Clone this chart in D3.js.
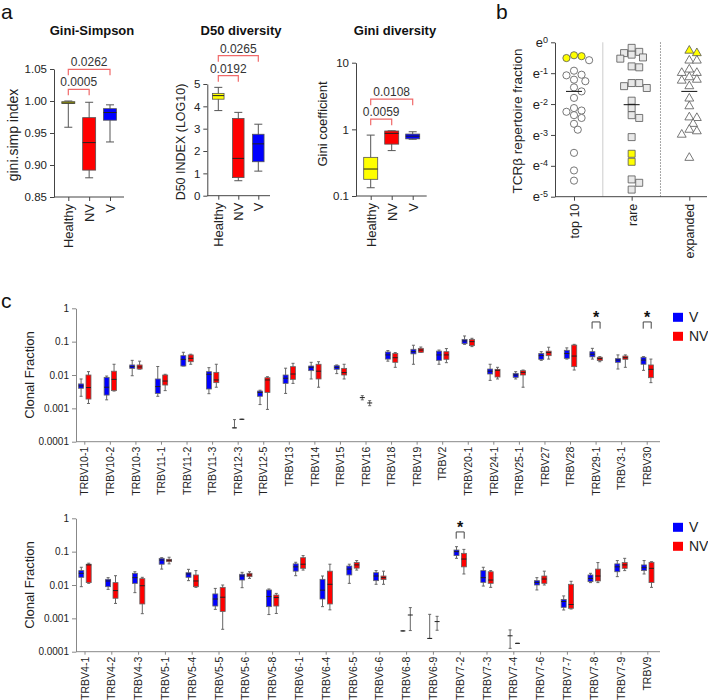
<!DOCTYPE html>
<html>
<head>
<meta charset="UTF-8" />
<script src="https://d3js.org/d3.v7.min.js"></script>
<style>
  body { margin: 0; background: #fff; }
  svg { font-family: "Liberation Sans", Arial, sans-serif; }
</style>
</head>
<body>
<svg id="fig" width="708" height="700"></svg>
<script>
// ---- panel a: box summaries [min, q1, median, q3, max] ----
var groups = ['Healthy', 'NV', 'V'];
var groupColors = ['#ffff00', '#ff0000', '#0000ff'];
var giniSimpson = [[0.959, 0.996, 0.997, 0.999, 1.0], [0.880, 0.892, 0.935, 0.974, 0.998], [0.936, 0.970, 0.982, 0.988, 0.994]];
var d50 = [[3.81, 4.32, 4.48, 4.58, 4.85], [0.67, 0.81, 1.67, 3.46, 3.73], [1.1, 1.52, 2.32, 2.75, 3.2]];
var giniCoef = [[0.133, 0.178, 0.254, 0.38, 0.82], [0.48, 0.6, 0.87, 0.945, 0.95], [0.71, 0.72, 0.79, 0.85, 0.92]];
var pGiniSimpson = ['0.0005', '0.0262'];
var pD50 = ['0.0192', '0.0265'];
var pGini = ['0.0059', '0.0108'];

// ---- panel b: TCRb repertoire fraction (exponent of e) ----
var fracCats = ['top 10', 'rare', 'expanded'];
var fracTop10 = [-0.58, -0.92, -1.05, -1.07, -1.21, -1.26, -1.46, -1.59, -1.8, -2.13, -2.21, -2.25, -2.36, -2.45, -2.64, -2.83, -3.58, -4.15, -4.48];
var fracTop10Hi = [-0.42, -0.45, -0.51];
var fracRare = [-0.18, -0.31, -0.35, -0.4, -0.49, -0.53, -0.78, -0.81, -1.32, -1.32, -1.42, -1.48, -1.89, -2.13, -2.36, -2.45, -3.07, -4.44, -4.55, -4.77];
var fracRareHi = [-3.61, -3.87];
var fracExp = [-0.59, -0.59, -0.88, -0.99, -0.99, -1.13, -1.21, -1.24, -1.42, -1.82, -2.07, -2.43, -2.45, -2.64, -2.83, -2.88, -2.99, -3.74];
var fracExpHi = [-0.27, -0.35];
var fracLine = [-1.59, -2.02, -1.59];

// ---- panel c: clonal fraction per TRBV gene [min, q1, median, q3, max] ----
var genesTop = ['TRBV10-1', 'TRBV10-2', 'TRBV10-3', 'TRBV11-1', 'TRBV11-2', 'TRBV11-3', 'TRBV12-3', 'TRBV12-5', 'TRBV13', 'TRBV14', 'TRBV15', 'TRBV16', 'TRBV18', 'TRBV19', 'TRBV2', 'TRBV20-1', 'TRBV24-1', 'TRBV25-1', 'TRBV27', 'TRBV28', 'TRBV29-1', 'TRBV3-1', 'TRBV30'];
var vTop = [
  [0.0023, 0.004, 0.0047, 0.0054, 0.0076], [0.0018, 0.0025, 0.0043, 0.0085, 0.0093], [0.0095, 0.0158, 0.0178, 0.02, 0.0275],
  [0.0023, 0.0028, 0.0045, 0.0076, 0.018], [0.0186, 0.0186, 0.0295, 0.038, 0.048], [0.00275, 0.0038, 0.0105, 0.0126, 0.0166],
  [0.00026, 0.00026, 0.00026, 0.00026, 0.00046], [0.0013, 0.0023, 0.003, 0.0033, 0.0035], [0.0028, 0.0056, 0.008, 0.01, 0.016],
  [0.0076, 0.0135, 0.017, 0.0186, 0.024], [0.011, 0.0148, 0.017, 0.019, 0.02], [0.0018, 0.0021, 0.0021, 0.0021, 0.0024],
  [0.026, 0.03, 0.04, 0.049, 0.054], [0.021, 0.043, 0.05, 0.059, 0.078], [0.021, 0.0275, 0.04, 0.052, 0.056],
  [0.083, 0.087, 0.105, 0.117, 0.148], [0.0069, 0.0107, 0.013, 0.0151, 0.021], [0.0076, 0.0085, 0.01, 0.0112, 0.0126],
  [0.0275, 0.0295, 0.038, 0.044, 0.05], [0.03, 0.0316, 0.044, 0.055, 0.065], [0.03, 0.035, 0.042, 0.05, 0.063],
  [0.0151, 0.024, 0.028, 0.031, 0.04], [0.0138, 0.021, 0.028, 0.034, 0.0355]
];
var nvTop = [
  [0.0014, 0.0019, 0.0042, 0.01, 0.0126], [0.0033, 0.0034, 0.0074, 0.013, 0.021], [0.015, 0.0151, 0.0174, 0.02, 0.026],
  [0.0034, 0.005, 0.0066, 0.01, 0.0105], [0.021, 0.025, 0.0316, 0.04, 0.042], [0.0043, 0.0059, 0.0071, 0.012, 0.021],
  [0.00047, 0.00047, 0.00047, 0.00047, 0.00047], [0.00093, 0.003, 0.0071, 0.0083, 0.0089], [0.0056, 0.0074, 0.0107, 0.0178, 0.0224],
  [0.0043, 0.0076, 0.013, 0.021, 0.025], [0.0076, 0.01, 0.0118, 0.0158, 0.021], [0.0012, 0.00145, 0.00145, 0.00145, 0.0017],
  [0.017, 0.024, 0.033, 0.044, 0.047], [0.048, 0.048, 0.056, 0.063, 0.069], [0.0234, 0.0295, 0.04, 0.05, 0.062],
  [0.071, 0.076, 0.1, 0.117, 0.126], [0.0076, 0.0087, 0.0138, 0.0148, 0.017], [0.0043, 0.01, 0.012, 0.0135, 0.0141],
  [0.03, 0.038, 0.047, 0.052, 0.068], [0.0141, 0.0178, 0.037, 0.079, 0.083], [0.025, 0.027, 0.031, 0.034, 0.0355],
  [0.017, 0.0295, 0.033, 0.037, 0.04], [0.0059, 0.0083, 0.0148, 0.02, 0.03]
];
var sigTop = ['TRBV29-1', 'TRBV30'];

var genesBottom = ['TRBV4-1', 'TRBV4-2', 'TRBV4-3', 'TRBV5-1', 'TRBV5-4', 'TRBV5-5', 'TRBV5-6', 'TRBV5-8', 'TRBV6-1', 'TRBV6-4', 'TRBV6-5', 'TRBV6-6', 'TRBV6-8', 'TRBV6-9', 'TRBV7-2', 'TRBV7-3', 'TRBV7-4', 'TRBV7-6', 'TRBV7-7', 'TRBV7-8', 'TRBV7-9', 'TRBV9'];
var vBottom = [
  [0.0089, 0.017, 0.0224, 0.027, 0.034], [0.0074, 0.0089, 0.0132, 0.0148, 0.0166], [0.0059, 0.0112, 0.0166, 0.0224, 0.025],
  [0.03, 0.042, 0.056, 0.063, 0.066], [0.0135, 0.017, 0.0214, 0.0234, 0.0295], [0.00186, 0.00234, 0.0038, 0.0054, 0.0079],
  [0.0083, 0.0141, 0.0186, 0.021, 0.024], [0.0013, 0.00224, 0.0045, 0.0071, 0.0076], [0.019, 0.026, 0.035, 0.043, 0.048],
  [0.00224, 0.0038, 0.007, 0.0148, 0.0186], [0.0112, 0.02, 0.03, 0.037, 0.042], [0.0105, 0.0135, 0.0186, 0.0234, 0.027],
  [0.00042, 0.00042, 0.00042, 0.00042, 0.00042], [0.00025, 0.00025, 0.00025, 0.00025, 0.00132], [0.063, 0.076, 0.1, 0.112, 0.141],
  [0.0093, 0.012, 0.0166, 0.027, 0.034], [0.000126, 0.0003, 0.0003, 0.0003, 0.00045], [0.0071, 0.01, 0.012, 0.0135, 0.0166],
  [0.00178, 0.00214, 0.0032, 0.0037, 0.0047], [0.0118, 0.0126, 0.0158, 0.02, 0.0224], [0.0178, 0.025, 0.035, 0.043, 0.054],
  [0.0214, 0.027, 0.033, 0.04, 0.054]
];
var nvBottom = [
  [0.0112, 0.0118, 0.04, 0.042, 0.045], [0.0028, 0.004, 0.0068, 0.0118, 0.019], [0.00138, 0.0027, 0.0095, 0.0155, 0.017],
  [0.043, 0.05, 0.055, 0.059, 0.068], [0.0085, 0.0089, 0.0132, 0.02, 0.027], [0.00047, 0.0016, 0.0043, 0.0085, 0.01],
  [0.0158, 0.0178, 0.02, 0.0224, 0.025], [0.0014, 0.00234, 0.0042, 0.005, 0.0056], [0.028, 0.0316, 0.042, 0.066, 0.076],
  [0.0018, 0.0027, 0.0105, 0.026, 0.042], [0.028, 0.032, 0.04, 0.047, 0.054], [0.0105, 0.0145, 0.0166, 0.0186, 0.026],
  [0.00043, 0.00126, 0.00126, 0.00126, 0.0021], [0.00044, 0.0008, 0.0008, 0.0008, 0.00115], [0.0214, 0.035, 0.06, 0.089, 0.117],
  [0.0085, 0.0112, 0.0141, 0.025, 0.027], [0.000178, 0.000178, 0.000178, 0.000178, 0.000178], [0.01, 0.0112, 0.0151, 0.0186, 0.026],
  [0.0019, 0.002, 0.0026, 0.0105, 0.0129], [0.0118, 0.0132, 0.0186, 0.03, 0.047], [0.027, 0.0316, 0.04, 0.047, 0.063],
  [0.0085, 0.0118, 0.0316, 0.048, 0.05]
];
var sigBottom = ['TRBV7-2'];

var svg = d3.select('#fig');
var FONT = '"Liberation Sans", Arial, sans-serif';

function styleAxis(ga, color, size) {
  ga.attr('font-family', FONT).attr('font-size', size).attr('color', color);
  ga.selectAll('text').attr('fill', '#222');
}

function drawBox(g, s, cx, y, bw, cap, fill, edge) {
  g.append('line').attr('x1', cx).attr('x2', cx).attr('y1', y(s[4])).attr('y2', y(s[0]))
    .attr('stroke', edge).attr('stroke-width', 1);
  [s[0], s[4]].forEach(function (v) {
    g.append('line').attr('x1', cx - cap).attr('x2', cx + cap).attr('y1', y(v)).attr('y2', y(v))
      .attr('stroke', edge).attr('stroke-width', 1);
  });
  g.append('rect').attr('x', cx - bw / 2).attr('y', y(s[3])).attr('width', bw)
    .attr('height', Math.max(0, y(s[1]) - y(s[3])))
    .attr('fill', fill).attr('stroke', edge).attr('stroke-width', 0.8);
  g.append('line').attr('x1', cx - bw / 2).attr('x2', cx + bw / 2).attr('y1', y(s[2])).attr('y2', y(s[2]))
    .attr('stroke', '#222').attr('stroke-width', 1);
}

function rotateLabels(gx, size, gap) {
  gx.selectAll('text').attr('transform', 'rotate(-90)').attr('text-anchor', 'end')
    .attr('x', -gap).attr('y', 0).attr('dy', '0.35em').attr('font-size', size);
}

// ---------- panel a ----------
function panelA(o) {
  var g = svg.append('g');
  var x = d3.scalePoint().domain(groups).range(o.xr);
  var y = o.y;
  var base = y.range()[0];

  var ga = g.append('g').attr('transform', 'translate(' + o.ax + ',0)')
    .call(d3.axisLeft(y).tickValues(o.ticks).tickFormat(o.fmt).tickSize(4).tickSizeOuter(0));
  styleAxis(ga, '#444', 11.5);

  var gx = g.append('g').attr('transform', 'translate(0,' + base + ')')
    .call(d3.axisBottom(x).tickSize(4).tickSizeOuter(0));
  styleAxis(gx, '#444', 13);
  gx.select('.domain').attr('d', 'M' + o.ax + ',0H' + o.ae);
  rotateLabels(gx, 13, 7);

  o.data.forEach(function (s, i) {
    drawBox(g, s, x(groups[i]), y, o.bw, 4, groupColors[i], '#555');
  });

  // p-value brackets: Healthy vs NV, Healthy vs V
  var b1 = d3.min(o.data, function (s) { return y(s[4]); }) - 11.7;
  [[1, b1], [2, b1 - 20]].forEach(function (p, k) {
    var x1 = x(groups[0]), x2 = x(groups[p[0]]), by = p[1];
    g.append('path').attr('d', 'M' + x1 + ',' + (by + 6) + 'V' + by + 'H' + x2 + 'V' + (by + 6))
      .attr('fill', 'none').attr('stroke', '#f06a6a').attr('stroke-width', 1.2);
    g.append('text').attr('x', (x1 + x2) / 2).attr('y', by - 3).attr('text-anchor', 'middle')
      .attr('font-size', 12).attr('fill', '#333').text(o.p[k]);
  });

  g.append('text').attr('x', o.tx).attr('y', 35).attr('text-anchor', 'middle')
    .attr('font-size', 13).attr('font-weight', 'bold').attr('fill', '#111').text(o.title);
  g.append('text').attr('transform', 'translate(' + o.lx + ',' + o.ly + ') rotate(-90)')
    .attr('text-anchor', 'middle').attr('dy', '0.35em').attr('font-size', o.lsize).attr('fill', '#222').text(o.ylabel);
}

panelA({
  data: giniSimpson, p: pGiniSimpson, title: 'Gini-Simpson', tx: 92, ylabel: 'gini.simp index', lx: 13, ly: 135, lsize: 14,
  ax: 54, ae: 124, xr: [68.3, 110], bw: 13,
  y: d3.scaleLinear().domain([0.85, 1.05]).range([197, 69]),
  ticks: [0.85, 0.9, 0.95, 1.0, 1.05], fmt: d3.format('.2f')
});
panelA({
  data: d50, p: pD50, title: 'D50 diversity', tx: 241, ylabel: 'D50 INDEX (LOG10)', lx: 181, ly: 142, lsize: 12.5,
  ax: 207.3, ae: 270, xr: [218.3, 258.3], bw: 11.5,
  y: d3.scaleLinear().domain([0, 5]).range([195.7, 84]),
  ticks: [0, 1, 2, 3, 4, 5], fmt: d3.format('d')
});
panelA({
  data: giniCoef, p: pGini, title: 'Gini diversity', tx: 395, ylabel: 'Gini coefficient', lx: 322, ly: 124, lsize: 13,
  ax: 356, ae: 426.7, xr: [370.7, 412.7], bw: 14,
  y: d3.scaleLog().domain([0.1, 10]).range([196, 62.7]),
  ticks: [0.1, 1, 10], fmt: function (d) { return String(d); }
});

// ---------- panel b ----------
(function () {
  var g = svg.append('g');
  var x = d3.scalePoint().domain(fracCats).range([574, 689.3]);
  var y = d3.scaleLinear().domain([-5, 0]).range([196.7, 42.3]);
  var sep = [(x(fracCats[0]) + x(fracCats[1])) / 2, (x(fracCats[1]) + x(fracCats[2])) / 2];
  g.append('line').attr('x1', sep[0]).attr('x2', sep[0]).attr('y1', y(0)).attr('y2', y(-5))
    .attr('stroke', '#ccc').attr('stroke-width', 1);
  g.append('line').attr('x1', sep[1]).attr('x2', sep[1]).attr('y1', y(0)).attr('y2', y(-5))
    .attr('stroke', '#888').attr('stroke-width', 1).attr('stroke-dasharray', '1.5,1.5');

  var ga = g.append('g').attr('transform', 'translate(555,0)')
    .call(d3.axisLeft(y).tickValues([0, -1, -2, -3, -4, -5]).tickSize(4).tickSizeOuter(0));
  styleAxis(ga, '#444', 13);
  ga.selectAll('.tick text').text(null).each(function (d) {
    var t = d3.select(this);
    t.append('tspan').text('e');
    t.append('tspan').attr('dy', '-0.45em').attr('font-size', 9).text(d === 0 ? '0' : '-' + Math.abs(d));
  });

  var gx = g.append('g').attr('transform', 'translate(0,' + y(-5) + ')')
    .call(d3.axisBottom(x).tickSize(4).tickSizeOuter(0));
  styleAxis(gx, '#444', 12.5);
  gx.select('.domain').attr('d', 'M555,0H707');
  rotateLabels(gx, 12.5, 7);

  var r = 3.6;
  function swarm(white, hi, cx) {
    var pts = white.map(function (v) { return { v: v, hi: false }; })
      .concat(hi.map(function (v) { return { v: v, hi: true }; }))
      .sort(function (a, b) { return b.v - a.v; });
    var placed = [];
    pts.forEach(function (p) {
      var py = y(p.v);
      for (var k = 0; k < 20; k++) {
        var px = cx + (k % 2 ? 1 : -1) * Math.ceil(k / 2) * r * 1.05;
        var ok = placed.every(function (q) { return Math.hypot(q.x - px, q.y - py) >= 2 * r * 0.92; });
        if (ok) { placed.push({ x: px, y: py, hi: p.hi }); break; }
      }
    });
    return placed;
  }
  var sets = [
    { w: fracTop10, h: fracTop10Hi, sym: d3.symbolCircle, size: Math.PI * r * r, fill: '#fff' },
    { w: fracRare, h: fracRareHi, sym: d3.symbolSquare, size: 49, fill: '#e8e8e8' },
    { w: fracExp, h: fracExpHi, sym: d3.symbolTriangle, size: 34, fill: '#fff' }
  ];
  sets.forEach(function (s, i) {
    var cx = x(fracCats[i]);
    g.selectAll(null).data(swarm(s.w, s.h, cx)).enter().append('path')
      .attr('transform', function (d) { return 'translate(' + d.x + ',' + d.y + ')'; })
      .attr('d', d3.symbol().type(s.sym).size(s.size))
      .attr('fill', function (d) { return d.hi ? '#ffff00' : s.fill; })
      .attr('stroke', '#555').attr('stroke-width', 0.8);
    g.append('line').attr('x1', cx - 8).attr('x2', cx + 8).attr('y1', y(fracLine[i])).attr('y2', y(fracLine[i]))
      .attr('stroke', '#111').attr('stroke-width', 1);
  });

  g.append('text').attr('transform', 'translate(517,121) rotate(-90)').attr('text-anchor', 'middle')
    .attr('dy', '0.35em').attr('font-size', 13.5).attr('fill', '#222').text('TCRβ repertoire fraction');
})();

// ---------- panel c ----------
function panelC(genes, vSet, nvSet, sig, yr, xr) {
  var g = svg.append('g');
  var x = d3.scaleBand().domain(genes).range(xr);
  var y = d3.scaleLog().domain([1e-4, 1]).range(yr);

  var ga = g.append('g').attr('transform', 'translate(76,0)')
    .call(d3.axisLeft(y).tickValues([1, 0.1, 0.01, 0.001, 0.0001])
      .tickFormat(function (d) { return String(d); }).tickSize(4).tickSizeOuter(0));
  styleAxis(ga, '#888', 10);

  var gx = g.append('g').attr('transform', 'translate(0,' + yr[0] + ')')
    .call(d3.axisBottom(x).tickSize(3).tickSizeOuter(0));
  styleAxis(gx, '#888', 10.5);
  gx.select('.domain').attr('d', 'M76,0H660');
  rotateLabels(gx, 10.5, 5);

  genes.forEach(function (gene, i) {
    var cx = x(gene) + x.bandwidth() / 2;
    drawBox(g, vSet[i], cx - 3.7, y, 5, 1.5, '#0000ff', '#666');
    drawBox(g, nvSet[i], cx + 3.7, y, 5, 1.5, '#ff0000', '#666');
  });

  sig.forEach(function (gene) {
    var cx = x(gene) + x.bandwidth() / 2;
    var bt = y(0.39), bb = y(0.245);
    g.append('path').attr('d', 'M' + (cx - 4) + ',' + bb + 'V' + bt + 'H' + (cx + 4) + 'V' + bb)
      .attr('fill', 'none').attr('stroke', '#444').attr('stroke-width', 1);
    g.append('text').attr('x', cx).attr('y', y(0.66) + 9).attr('text-anchor', 'middle')
      .attr('font-size', 16).attr('font-weight', 'bold').attr('fill', '#111').text('*');
  });

  g.append('text').attr('transform', 'translate(29,' + (yr[0] + yr[1]) / 2 + ') rotate(-90)')
    .attr('text-anchor', 'middle').attr('dy', '0.35em').attr('font-size', 13).attr('fill', '#222').text('Clonal Fraction');

  var lg = g.append('g').attr('transform', 'translate(673,' + (yr[1] + 4.5) + ')');
  [['V', '#0000ff'], ['NV', '#ff0000']].forEach(function (d, i) {
    lg.append('rect').attr('x', 0).attr('y', i * 19).attr('width', 10).attr('height', 9).attr('fill', d[1]);
    lg.append('text').attr('x', 16).attr('y', i * 19 + 4.5).attr('dy', '0.35em')
      .attr('font-size', 14).attr('fill', '#222').text(d[0]);
  });
}

panelC(genesTop, vTop, nvTop, sigTop, [441.7, 308.3], [72, 660]);
panelC(genesBottom, vBottom, nvBottom, sigBottom, [651.7, 518.3], [71.6, 661.2]);

// panel letters
[['a', 1, 19], ['b', 496, 19], ['c', 1, 308]].forEach(function (d) {
  svg.append('text').attr('x', d[1]).attr('y', d[2]).attr('font-size', 21).attr('fill', '#111').text(d[0]);
});
</script>
</body>
</html>
